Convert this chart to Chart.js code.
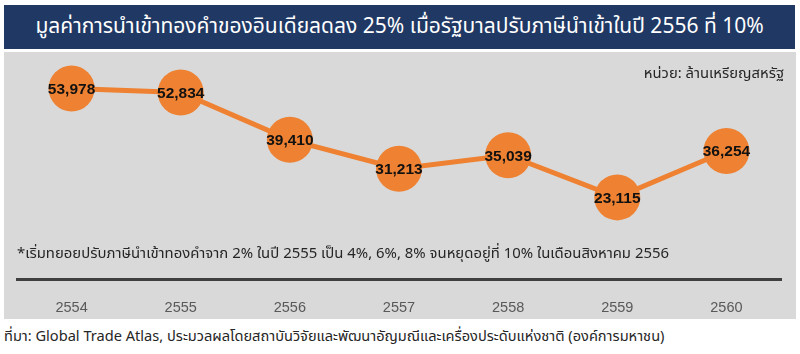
<!DOCTYPE html>
<html>
<head>
<meta charset="utf-8">
<script src="https://cdn.jsdelivr.net/npm/chart.js@4/dist/chart.umd.min.js"></script>
<style>
    body { margin: 0; width: 800px; height: 354px; background: #fff; position: relative; overflow: hidden;
           font-family: Tahoma, "Noto Sans Thai", "DejaVu Sans", "Noto Sans", sans-serif; }
    #titulo { position: absolute; left: 4px; top: 5px; width: 791px; height: 44px; background: #1F3864;
              color: #fff; font-size: 21px; line-height: 44px; text-align: center; }
    #panel { position: absolute; left: 4px; top: 52px; width: 792px; height: 267px; background: #D9D9D9; }
    #unidad { position: absolute; right: 16px; top: 62px; font-size: 14.8px; color: #262626; }
    #nota { position: absolute; left: 17px; top: 242px; font-size: 14.9px; color: #262626; }
    #fuente { position: absolute; left: 4px; top: 326px; font-size: 14.6px; color: #262626; }
    #grafica { position: absolute; left: 4px; top: 52px; }
</style>
</head>
<body>
<div id="titulo"></div>
<div id="panel"></div>
<canvas id="grafica" width="792" height="267"></canvas>
<div id="unidad"></div>
<div id="nota"></div>
<div id="fuente"></div>
<script>
const titulo = 'มูลค่าการนำเข้าทองคำของอินเดียลดลง 25% เมื่อรัฐบาลปรับภาษีนำเข้าในปี 2556 ที่ 10%';
const unidad = 'หน่วย: ล้านเหรียญสหรัฐ';
const nota = '*เริ่มทยอยปรับภาษีนำเข้าทองคำจาก 2% ในปี 2555 เป็น 4%, 6%, 8% จนหยุดอยู่ที่ 10% ในเดือนสิงหาคม 2556';
const fuente = 'ที่มา: Global Trade Atlas, ประมวลผลโดยสถาบันวิจัยและพัฒนาอัญมณีและเครื่องประดับแห่งชาติ  (องค์การมหาชน)';

const anios = ['2554', '2555', '2556', '2557', '2558', '2559', '2560'];
const importaciones = [53978, 52834, 39410, 31213, 35039, 23115, 36254];

document.getElementById('titulo').textContent = titulo;
document.getElementById('unidad').textContent = unidad;
document.getElementById('nota').textContent = nota;
document.getElementById('fuente').textContent = fuente;

// etiquetas de valor encima de cada punto
const etiquetas = {
    id: 'etiquetas',
    afterDatasetsDraw(chart) {
        const ctx = chart.ctx;
        const meta = chart.getDatasetMeta(0);
        ctx.save();
        ctx.font = 'bold 15.5px "Liberation Sans", Arial, sans-serif';
        ctx.fillStyle = '#111';
        ctx.textAlign = 'center';
        ctx.textBaseline = 'middle';
        meta.data.forEach((p, i) => {
            ctx.fillText(importaciones[i].toLocaleString('en-US'), p.x, p.y + 1);
        });
        ctx.restore();
    }
};

new Chart(document.getElementById('grafica').getContext('2d'), {
    type: 'line',
    data: {
        labels: anios,
        datasets: [{
            data: importaciones,
            borderColor: '#EE8232',
            borderWidth: 5,
            backgroundColor: '#EE8232',
            pointBackgroundColor: '#EE8232',
            pointBorderWidth: 0,
            pointRadius: 23,
            pointHoverRadius: 23,
            tension: 0,
            clip: false
        }]
    },
    options: {
        responsive: false,
        animation: false,
        events: [],
        layout: { autoPadding: false, padding: { left: 13, right: 15, top: 1, bottom: 0 } },
        plugins: { legend: { display: false }, tooltip: { enabled: false } },
        scales: {
            x: {
                offset: true,
                grid: { display: false, drawTicks: false },
                border: { display: true, color: '#3F3F3F', width: 3 },
                ticks: { padding: 20, color: '#595959', font: { family: '"Liberation Sans", Arial, sans-serif', size: 14.5 } },
                afterFit(scale) { scale.height = 40; }
            },
            y: {
                display: false,
                min: 0,
                max: 64000
            }
        }
    },
    plugins: [etiquetas]
});
</script>
</body>
</html>
